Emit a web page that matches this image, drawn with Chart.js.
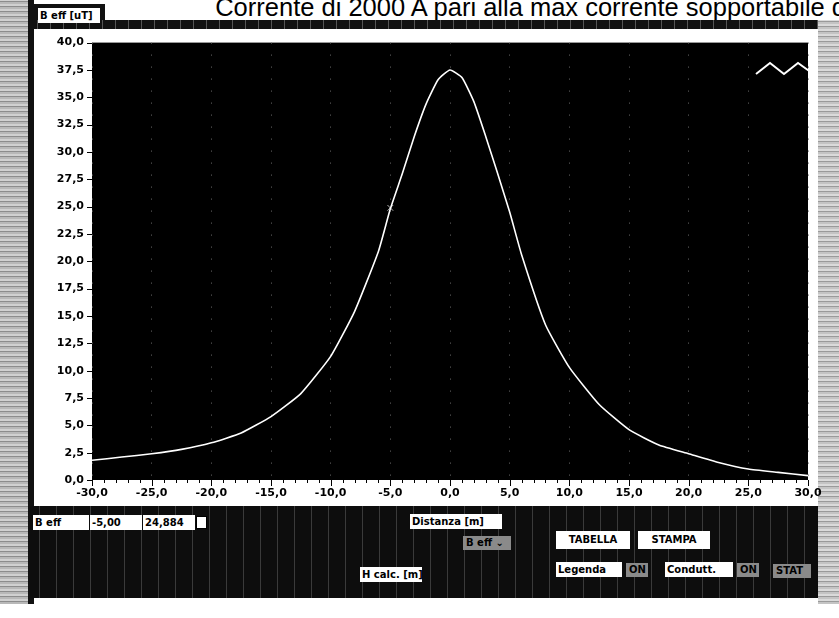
<!DOCTYPE html>
<html>
<head>
<meta charset="utf-8">
<script src="https://cdn.jsdelivr.net/npm/chart.js@4/dist/chart.umd.min.js"></script>
<style>
  html, body { margin: 0; padding: 0; background: #fff; }
  #page { position: relative; width: 839px; height: 618px; overflow: hidden; background: #fff; font-family: 'DejaVu Sans', sans-serif; }
  .abs { position: absolute; }
  #title { right: -7px; top: -7px; font: 25.5px 'Liberation Sans', Arial, sans-serif; color: #000; white-space: nowrap; }
  #leftStrip { left: 0; top: 0; width: 30px; height: 604px; background: repeating-linear-gradient(0deg, #b8b8b8 0 2px, #8c8c8c 2px 3px, #d0d0d0 3px 5px); }
  #leftLine { left: 28px; top: 0; width: 6px; height: 604px; background: #111; }
  #header { left: 30px; top: 20px; width: 809px; height: 9px; background: repeating-linear-gradient(90deg, #111 0 7px, #555 7px 8px, #111 8px 13px); }
  #headerL { left: 30px; top: 4px; width: 75px; height: 25px; background: #111; }
  #panel { left: 34px; top: 29px; width: 786px; height: 477px; background: #fff; }
  #rightStrip { left: 818px; top: 20px; width: 21px; height: 584px; background: repeating-linear-gradient(0deg, #c4c4c4 0 2px, #9a9a9a 2px 3px, #dadada 3px 5px); }
  #bottom { left: 30px; top: 506px; width: 788px; height: 92px; background: repeating-linear-gradient(90deg, #0d0d0d 0 9px, #3a3a3a 9px 10px, #0d0d0d 10px 17px); }
  .box { position: absolute; background: #fff; color: #000; font: bold 10px 'DejaVu Sans', sans-serif; line-height: 15px; height: 15px; padding: 0 2px; white-space: nowrap; }
  .btn { position: absolute; background: #fff; color: #000; font: bold 10px 'DejaVu Sans', sans-serif; text-align: center; line-height: 18px; height: 18px; }
  .grey { position: absolute; background: #8a8a8a; color: #000; font: bold 10px 'DejaVu Sans', sans-serif; line-height: 14px; height: 14px; padding: 0 3px; }
  #chartBox { left: 35px; top: 28px; width: 795px; height: 477px; }
</style>
</head>
<body>
<div id="page">
  <div class="abs" id="title">Corrente di 2000 A pari alla max corrente sopportabile d</div>
  <div class="abs" id="leftStrip"></div>
  <div class="abs" id="leftLine"></div>
  <div class="abs" id="headerL"></div>
  <div class="abs" id="header"></div>
  <div class="box" style="left:38px;top:8px;width:58px;">B eff [uT]</div>
  <div class="abs" id="panel"></div>
  <div class="abs" id="rightStrip"></div>
  <div class="abs" id="chartBox"><canvas id="chart" width="795" height="477"></canvas></div>
  <svg class="abs" style="left:754px;top:58px;" width="60" height="22">
    <polyline points="2,16 16,5 30,16 44,5 58,15" fill="none" stroke="#fff" stroke-width="2"/>
  </svg>
  <div class="abs" id="bottom"></div>
  <div class="box" style="left:33px;top:515px;width:52px;">B eff</div>
  <div class="box" style="left:90px;top:515px;width:48px;">-5,00</div>
  <div class="box" style="left:143px;top:515px;width:48px;">24,884</div>
  <div class="box" style="left:196px;top:516px;width:9px;height:11px;border:1px solid #000;padding:0;"></div>
  <div class="box" style="left:410px;top:514px;width:88px;">Distanza [m]</div>
  <div class="grey" style="left:463px;top:536px;width:42px;">B eff &#8964;</div>
  <div class="btn" style="left:556px;top:531px;width:74px;">TABELLA</div>
  <div class="btn" style="left:638px;top:531px;width:72px;">STAMPA</div>
  <div class="box" style="left:360px;top:567px;width:58px;">H calc. [m]</div>
  <div class="box" style="left:556px;top:562px;width:62px;">Legenda</div>
  <div class="grey" style="left:626px;top:563px;width:16px;">ON</div>
  <div class="box" style="left:665px;top:562px;width:64px;">Condutt.</div>
  <div class="grey" style="left:737px;top:563px;width:16px;">ON</div>
  <div class="grey" style="left:773px;top:564px;width:32px;">STAT</div>
</div>
<script>
// distanza [m] and B eff [uT]
const distanza = [-30, -27.5, -25, -22.5, -20, -17.5, -15, -12.5, -10, -8, -6, -5, -4, -3, -2, -1, 0, 1, 2, 3, 4, 5, 6, 8, 10, 12.5, 15, 17.5, 20, 22.5, 25, 27.5, 30];
const bEff = [1.8, 2.1, 2.4, 2.8, 3.4, 4.3, 5.8, 7.9, 11.3, 15.4, 20.9, 24.8, 28.0, 31.4, 34.4, 36.6, 37.5, 36.8, 34.6, 31.4, 28.0, 24.5, 20.6, 14.2, 10.3, 6.9, 4.6, 3.2, 2.4, 1.6, 1.0, 0.7, 0.4];
const xTicks = [-30, -25, -20, -15, -10, -5, 0, 5, 10, 15, 20, 25, 30];
const yTicks = [0, 2.5, 5, 7.5, 10, 12.5, 15, 17.5, 20, 22.5, 25, 27.5, 30, 32.5, 35, 37.5, 40];

const fmt = v => Number(v).toFixed(1).replace('.', ',');
const labelFont = { family: 'DejaVu Sans', size: 11, weight: 'bold' };

// black plot area + outward tick marks like the LabVIEW graph
const panelPlugin = {
  id: 'panel',
  beforeDraw(chart) {
    const { ctx, chartArea: a } = chart;
    ctx.save();
    ctx.fillStyle = '#000';
    ctx.fillRect(a.left, a.top, a.right - a.left, a.bottom - a.top);
    ctx.restore();
  },
  afterDraw(chart) {
    const { ctx, chartArea: a, scales } = chart;
    ctx.save();
    ctx.strokeStyle = '#000';
    ctx.lineWidth = 1;
    ctx.beginPath();
    yTicks.forEach(v => {
      const y = Math.round(scales.y.getPixelForValue(v)) + 0.5;
      ctx.moveTo(a.left - 5, y); ctx.lineTo(a.left, y);
    });
    for (let v = -30; v <= 30; v++) {
      const x = Math.round(scales.x.getPixelForValue(v)) + 0.5;
      ctx.moveTo(x, a.bottom); ctx.lineTo(x, a.bottom + (v % 5 === 0 ? 6 : 3));
    }
    ctx.stroke();
    ctx.restore();
  }
};

new Chart(document.getElementById('chart').getContext('2d'), {
  type: 'line',
  data: {
    datasets: [
      { label: 'B eff', data: distanza.map((d, i) => ({ x: d, y: bEff[i] })), borderColor: '#fff', borderWidth: 1.6, pointRadius: 0, tension: 0.15, fill: false },
      { label: 'cursore', data: [{ x: -5, y: 24.884 }], showLine: false, pointStyle: 'crossRot', pointRadius: 4, borderColor: '#bbb', borderWidth: 1 }
    ]
  },
  options: {
    responsive: false, animation: false,
    layout: { padding: { top: 14, right: 22, left: 0, bottom: 0 } },
    plugins: { legend: { display: false }, tooltip: { enabled: false } },
    scales: {
      x: {
        type: 'linear', min: -30, max: 30,
        afterBuildTicks: s => { s.ticks = xTicks.map(v => ({ value: v })); },
        afterFit: s => { s.height = 25; },
        ticks: { color: '#000', font: labelFont, padding: 7, callback: fmt, maxRotation: 0 },
        grid: { color: '#6a6a6a', lineWidth: 1, drawTicks: false },
        border: { display: false, dash: [1, 11] }
      },
      y: {
        min: 0, max: 40,
        afterBuildTicks: s => { s.ticks = yTicks.map(v => ({ value: v })); },
        afterFit: s => { s.width = 57; },
        ticks: { color: '#000', font: labelFont, padding: 8, callback: fmt },
        grid: { color: 'rgba(0,0,0,0)', drawTicks: false },
        border: { display: false }
      }
    }
  },
  plugins: [panelPlugin]
});
</script>
</body>
</html>
